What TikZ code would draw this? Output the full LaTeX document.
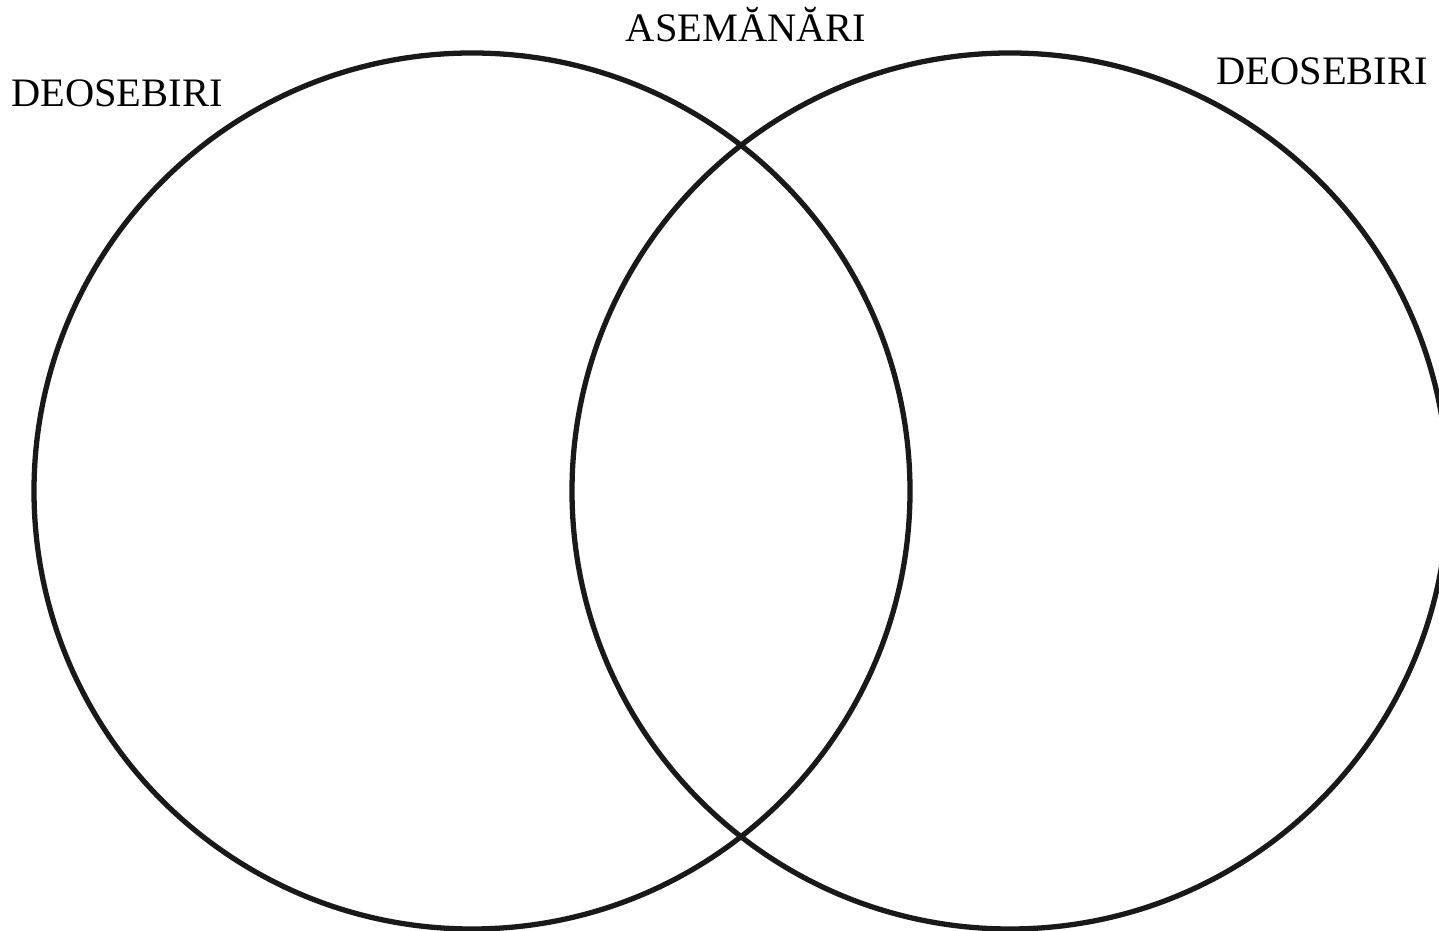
\documentclass[tikz,border=0pt]{standalone}
\usepackage{fontspec}
\setmainfont{Liberation Serif}
\usetikzlibrary{positioning}
\tikzset{
  venn/.style={line width=3pt, draw=black!90},
  heading/.style={anchor=base, font=\fontsize{23}{27}\selectfont}
}
\begin{document}
\begin{tikzpicture}
        \useasboundingbox (0,0) rectangle (28.78,18.62);
        \clip (0,0) rectangle (28.78,18.62);

        % centres of the two sets
        \coordinate (stanga) at (9.44,8.80);
        \coordinate (dreapta) at (20.20,8.80);
        \foreach \c in {stanga,dreapta}
          \draw[venn] (\c) circle[radius=8.76];

        \node[heading] (dif1) at (2.34,16.48) {DEOSEBIRI};
        \node[heading] (asem) at (14.92,17.78) {ASEMĂNĂRI};
        \node[heading] (dif2) at (26.44,16.92) {DEOSEBIRI};
\end{tikzpicture}
\end{document}
